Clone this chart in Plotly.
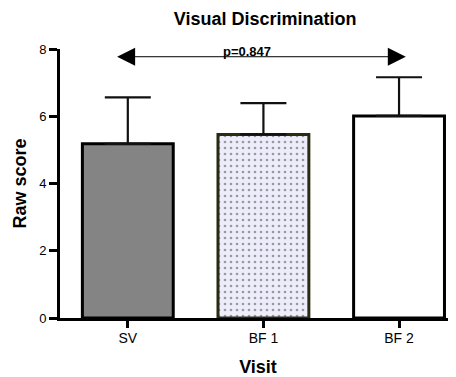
import plotly.graph_objects as go

visits = ["SV", "BF1", "BF2"]
tick_text = ["SV", "BF 1", "BF 2"]
raw_score = [5.18, 5.46, 6.01]
sem = [1.38, 0.93, 1.15]
p_label = "p=0.847"
bracket_start, bracket_end, bracket_y = -0.09, 2.05, 7.77

fig = go.Figure()
fig.add_trace(go.Bar(
    x=visits,
    y=raw_score,
    width=0.67,
    marker=dict(
        color=["#848484", "#ececfa", "#ffffff"],
        line=dict(color=["#000000", "#2a2a12", "#000000"], width=3),
        pattern=dict(shape=["", ".", ""], fgcolor="#333333", size=6, solidity=0.15),
    ),
    error_y=dict(type="data", array=sem, arrayminus=[0, 0, 0], symmetric=False,
                 color="#111111", thickness=2.2, width=23),
    showlegend=False,
))

fig.add_annotation(
    x=bracket_end, y=bracket_y, ax=bracket_start, ay=bracket_y,
    xref="x", yref="y", axref="x", ayref="y",
    text="", showarrow=True, arrowhead=2, startarrowhead=2, arrowside="end+start",
    arrowsize=3.6, arrowwidth=1, arrowcolor="#000000",
)
fig.add_annotation(
    x=(bracket_start + bracket_end) / 2 - 0.1, y=bracket_y, xref="x", yref="y",
    text="<b>" + p_label + "</b>", showarrow=False, yanchor="bottom", yshift=-4,
    font=dict(family="Arial, Liberation Sans", size=13, color="#000000"),
)

# page body keeps its default 8px margin, so the figure is 8px smaller
fig.update_layout(
    width=448, height=369,
    margin=dict(l=52, r=0, t=41, b=59),
    paper_bgcolor="white", plot_bgcolor="white",
    font=dict(family="Arial, Liberation Sans", color="#000000"),
    title=dict(text="<b>Visual Discrimination</b>", x=0.574, xanchor="center",
               y=0.972, yanchor="middle", font=dict(size=18)),
)
fig.update_xaxes(
    range=[-0.5, 2.42], tickvals=visits, ticktext=tick_text,
    showline=True, linecolor="#000000", linewidth=3,
    ticks="outside", ticklen=7, tickwidth=3, tickcolor="#000000",
    tickfont=dict(size=14), showgrid=False, ticklabelstandoff=-2,
    title=dict(text="<b>Visit</b>", font=dict(size=18), standoff=18),
)
fig.update_yaxes(
    range=[0, 8], tickvals=[0, 2, 4, 6, 8],
    showline=True, linecolor="#000000", linewidth=3,
    ticks="outside", ticklen=8, tickwidth=3, tickcolor="#000000",
    tickfont=dict(size=13), showgrid=False, zeroline=False,
    title=dict(text="<b>Raw score</b>", font=dict(size=18), standoff=8),
)

fig.write_html("out.html")
